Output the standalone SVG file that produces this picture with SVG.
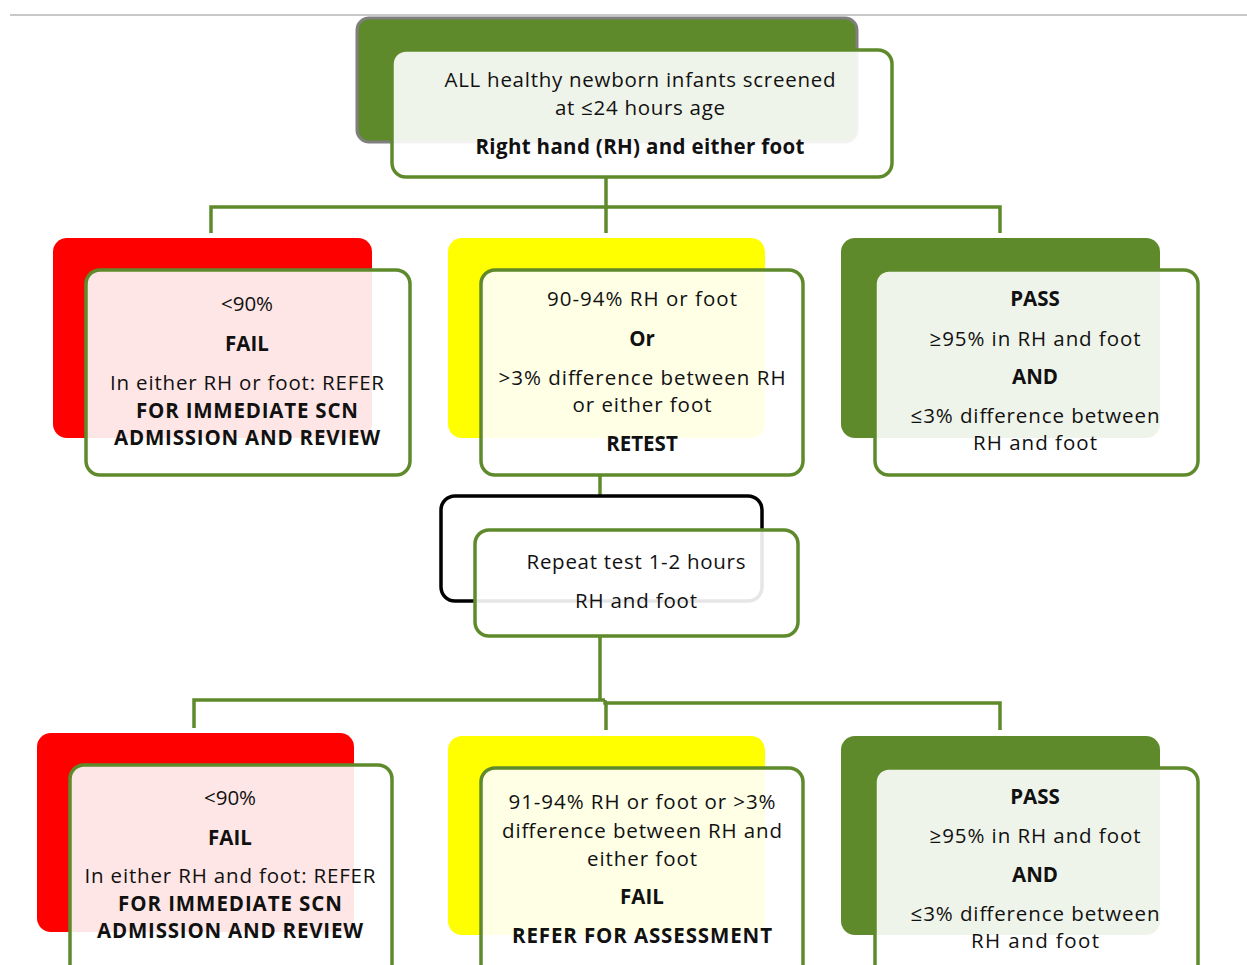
<svg xmlns="http://www.w3.org/2000/svg" width="1247" height="965" viewBox="0 0 1247 965">
<style>
.bg{stroke:none}
.fr{fill:#ffffff;fill-opacity:0.9;stroke:#5f8a2b;stroke-width:3.5}
.ln{stroke:#5f8a2b;stroke-width:3.5;fill:none}
text{font-family:"Open Sans","Liberation Sans",Arial,sans-serif;font-size:20.5px;fill:#111;text-anchor:middle}
.b{font-weight:bold}
</style>
<rect x="0" y="0" width="1247" height="965" fill="#ffffff"/>
<line x1="10" y1="15" x2="1247" y2="15" stroke="#c8c8c8" stroke-width="2"/>
<g id="connectors">
<polyline class="ln" points="606,177 606,233"/>
<polyline class="ln" points="211,233 211,207 1000,207 1000,233"/>
<polyline class="ln" points="600,475 600,495"/>
<polyline class="ln" points="600,636 600,700"/>
<polyline class="ln" points="194,728 194,700 605,700"/>
<polyline class="ln" points="605,700 605,703 1000,703 1000,730"/>
<polyline class="ln" points="606,703 606,730"/>
</g>
<g id="start">
<rect x="357" y="18" width="500" height="124" rx="12" fill="#5f8a2b" stroke="#7f7f7f" stroke-width="3"/>
<rect class="fr" x="392" y="50" width="500" height="127" rx="14"/>
<text x="640" y="87" textLength="391">ALL healthy newborn infants screened</text>
<text x="640" y="115" textLength="170">at ≤24 hours age</text>
<text class="b" x="640" y="154" textLength="329">Right hand (RH) and either foot</text>
</g>
<g id="fail1">
<rect class="bg" x="53" y="238" width="319" height="200" rx="14" fill="#ff0000"/>
<rect class="fr" x="86" y="270" width="324" height="205" rx="14"/>
<text x="247" y="311">&lt;90%</text>
<text class="b" x="247" y="351">FAIL</text>
<text x="247" y="390" textLength="274">In either RH or foot: REFER</text>
<text class="b" x="247" y="418" textLength="222">FOR IMMEDIATE SCN</text>
<text class="b" x="247" y="445" textLength="266">ADMISSION AND REVIEW</text>
</g>
<g id="retest1">
<rect class="bg" x="448" y="238" width="317" height="200" rx="14" fill="#ffff00"/>
<rect class="fr" x="481" y="270" width="322" height="205" rx="14"/>
<text x="642" y="306" textLength="190">90-94% RH or foot</text>
<text class="b" x="642" y="346">Or</text>
<text x="642" y="385" textLength="287">&gt;3% difference between RH</text>
<text x="642" y="412" textLength="139">or either foot</text>
<text class="b" x="642" y="451">RETEST</text>
</g>
<g id="pass1">
<rect class="bg" x="841" y="238" width="319" height="200" rx="14" fill="#5f8a2b"/>
<rect class="fr" x="875" y="270" width="323" height="205" rx="14"/>
<text class="b" x="1035" y="306">PASS</text>
<text x="1035" y="346" textLength="211">≥95% in RH and foot</text>
<text class="b" x="1035" y="384">AND</text>
<text x="1035" y="423" textLength="249">≤3% difference between</text>
<text x="1035" y="450" textLength="124">RH and foot</text>
</g>
<g id="repeat">
<rect x="441" y="496" width="321" height="105" rx="14" fill="#ffffff" stroke="#000000" stroke-width="3.5"/>
<rect class="fr" x="475" y="530" width="323" height="106" rx="14"/>
<text x="636" y="569" textLength="219">Repeat test 1-2 hours</text>
<text x="636" y="608" textLength="122">RH and foot</text>
</g>
<g id="fail2">
<rect class="bg" x="37" y="733" width="317" height="199" rx="14" fill="#ff0000"/>
<rect class="fr" x="70" y="765" width="322" height="215" rx="14"/>
<text x="230" y="805">&lt;90%</text>
<text class="b" x="230" y="845">FAIL</text>
<text x="230" y="883" textLength="291">In either RH and foot: REFER</text>
<text class="b" x="230" y="911" textLength="224">FOR IMMEDIATE SCN</text>
<text class="b" x="230" y="938" textLength="266">ADMISSION AND REVIEW</text>
</g>
<g id="refer2">
<rect class="bg" x="448" y="736" width="317" height="199" rx="14" fill="#ffff00"/>
<rect class="fr" x="481" y="768" width="322" height="212" rx="14"/>
<text x="642" y="809" textLength="267">91-94% RH or foot or &gt;3%</text>
<text x="642" y="838" textLength="280">difference between RH and</text>
<text x="642" y="866" textLength="110">either foot</text>
<text class="b" x="642" y="904">FAIL</text>
<text class="b" x="642" y="943" textLength="260">REFER FOR ASSESSMENT</text>
</g>
<g id="pass2">
<rect class="bg" x="841" y="736" width="319" height="199" rx="14" fill="#5f8a2b"/>
<rect class="fr" x="875" y="768" width="323" height="212" rx="14"/>
<text class="b" x="1035" y="804">PASS</text>
<text x="1035" y="843" textLength="211">≥95% in RH and foot</text>
<text class="b" x="1035" y="882">AND</text>
<text x="1035" y="921" textLength="249">≤3% difference between</text>
<text x="1035" y="948" textLength="128">RH and foot</text>
</g>
</svg>
